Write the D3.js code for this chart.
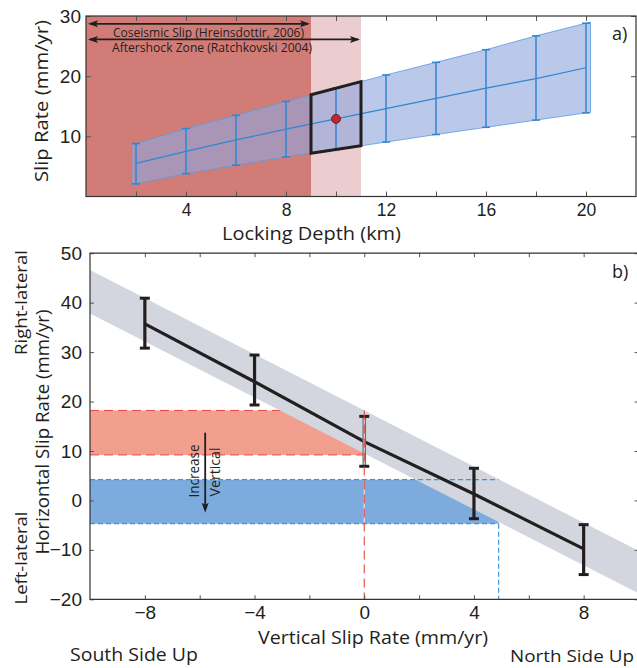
<!DOCTYPE html>
<html><head><meta charset="utf-8">
<script src="https://cdn.jsdelivr.net/npm/d3@7"></script>
<style>
body{margin:0;background:#fff}
svg{display:block}
text{font-family:"Open Sans",Lato,sans-serif;fill:#231f20}
.tick text{font-family:"Liberation Sans",Arial,sans-serif;font-size:19px;fill:#231f20}
</style>
</head><body>
<svg id="c" width="637" height="668"></svg>
<script>
// ---------- Panel a data ----------
const depths   = [2,4,6,8,10,12,14,16,18,20];
const slipMid  = [5.5,7.5,9.4,11.2,12.9,14.6,16.3,18.0,19.6,21.4];
const slipHi   = [8.8,11.3,13.5,15.8,18.0,20.2,22.3,24.4,26.7,28.8];
const slipLo   = [2.1,3.8,5.2,6.6,7.8,9.05,10.3,11.5,12.7,13.9];
const bestDepth = 10, bestSlip = 12.9;
const coseismicZone  = [0, 9];
const aftershockZone = [0, 11];
const depthBox = [9, 11];
const aTicks = [2,4,6,8,10,12,14,16,18,20];
const aTickLabels = [4,8,12,16,20];
const aYTicks = [10,20,30];

// ---------- Panel b data ----------
const vertRate  = [-8,-4,0,4,8];
const horizMid  = [35.7,24.0,11.9,1.3,-9.8];
const horizHi   = [40.9,29.4,17.0,6.5,-4.9];
const horizLo   = [30.8,19.3,6.9,-3.7,-15.0];
const grayBandX  = [-10,10];
const grayBandHi = [46.6,-10.2];
const grayBandLo = [37.8,-18.8];
const redRange  = [9.2,18.2];
const redVert   = 0;
const blueRange = [-4.7,4.2];
const blueVert  = 4.9;
const arrowPos  = {x:-5.8, y0:13.7, y1:-2.5};
const bXTicks = [-8,-6,-4,-2,0,2,4,6,8];
const bXLabels = [-8,-4,0,4,8];
const bYTicks = [-20,-10,0,10,20,30,40,50];

const svg = d3.select("#c");

function label(g, txt, x, y, size, len, opts={}){
  const t = g.append("text").style("font-size",size+"px").text(txt)
    .attr("text-anchor", opts.anchor||"middle");
  if(opts.rotate){ t.attr("transform",`translate(${x},${y}) rotate(-90)`).attr("dominant-baseline","central"); }
  else { t.attr("x",x).attr("y",y); }
  if(len) t.attr("textLength",len).attr("lengthAdjust","spacingAndGlyphs");
  return t;
}

// ================= PANEL A =================
const xa = d3.scaleLinear().domain([0,22]).range([86,636]);
const ya = d3.scaleLinear().domain([0,30]).range([196.5,16]);
const ga = svg.append("g");

ga.append("rect").attr("x",xa(depthBox[0])).attr("y",ya(30)).attr("width",xa(depthBox[1])-xa(depthBox[0])).attr("height",ya(0)-ya(30)).attr("fill","#eccdcf");
ga.append("rect").attr("x",xa(coseismicZone[0])).attr("y",ya(30)).attr("width",xa(coseismicZone[1])-xa(coseismicZone[0])).attr("height",ya(0)-ya(30)).attr("fill","#d27c77");

const pad = 0.18;
const hiS = d3.scaleLinear().domain(depths).range(slipHi);
const loS = d3.scaleLinear().domain(depths).range(slipLo);
const bx0 = depths[0]-pad, bx1 = depths[depths.length-1]+pad;
const bandPts = [[bx0,hiS(bx0)], ...depths.map((d,i)=>[d,slipHi[i]]), [bx1,hiS(bx1)], [bx1,loS(bx1)], ...depths.map((d,i)=>[d,slipLo[i]]).reverse(), [bx0,loS(bx0)]];
ga.append("path").attr("d", d3.line().x(d=>xa(d[0])).y(d=>ya(d[1]))(bandPts)+"Z")
  .attr("fill","rgb(143,166,221)").attr("fill-opacity",0.62)
  .attr("stroke","#5b9be0").attr("stroke-width",0.8);

ga.append("path").attr("d", d3.line().x(d=>xa(d)).y((d,i)=>ya(slipMid[i]))(depths))
  .attr("fill","none").attr("stroke","#2f86d3").attr("stroke-width",1.2);

depths.forEach((d,i)=>{
  const g = ga.append("g").attr("stroke","#2f86d3").attr("stroke-width",1.5);
  g.append("line").attr("x1",xa(d)).attr("x2",xa(d)).attr("y1",ya(slipHi[i])).attr("y2",ya(slipLo[i]));
  g.append("line").attr("x1",xa(d)-4).attr("x2",xa(d)+4).attr("y1",ya(slipHi[i])).attr("y2",ya(slipHi[i]));
  g.append("line").attr("x1",xa(d)-4).attr("x2",xa(d)+4).attr("y1",ya(slipLo[i])).attr("y2",ya(slipLo[i]));
});

const boxPts = [[depthBox[0],hiS(depthBox[0])],[depthBox[1],hiS(depthBox[1])],[depthBox[1],loS(depthBox[1])],[depthBox[0],loS(depthBox[0])]];
ga.append("path").attr("d", d3.line().x(d=>xa(d[0])).y(d=>ya(d[1]))(boxPts)+"Z")
  .attr("fill","none").attr("stroke","#231f20").attr("stroke-width",3).attr("stroke-linejoin","miter");

ga.append("circle").attr("cx",xa(bestDepth)).attr("cy",ya(bestSlip)).attr("r",4.5)
  .attr("fill","#c4262e").attr("stroke","#4a1515").attr("stroke-width",0.8);

function hArrow(g, x0, x1, y){
  g.append("line").attr("x1",x0+2).attr("x2",x1-2).attr("y1",y).attr("y2",y).attr("stroke","#231f20").attr("stroke-width",1.8);
  g.append("path").attr("d",`M${x0},${y}L${x0+10},${y-3.5}L${x0+8},${y}L${x0+10},${y+3.5}Z`).attr("fill","#231f20");
  g.append("path").attr("d",`M${x1},${y}L${x1-10},${y-3.5}L${x1-8},${y}L${x1-10},${y+3.5}Z`).attr("fill","#231f20");
}
hArrow(ga, xa(coseismicZone[0])+2, xa(coseismicZone[1])-1, ya(28.7));
hArrow(ga, xa(aftershockZone[0])+2, xa(aftershockZone[1])-1, ya(26.1));
label(ga, "Coseismic Slip (Hreinsdottir, 2006)", 208.5, ya(28.7)+13, 12.5, 191);
label(ga, "Aftershock Zone (Ratchkovski 2004)", 212, ya(26.1)+13, 12.5, 200);

function styleAxis(sel){ sel.select(".domain").remove(); sel.selectAll(".tick line").attr("stroke","#555").attr("stroke-width",1); }
ga.append("g").attr("transform",`translate(0,${ya(0)})`)
  .call(d3.axisBottom(xa).tickValues(aTicks).tickSize(-5).tickPadding(7).tickFormat(d=>aTickLabels.includes(d)?d:""))
  .call(styleAxis)
  .call(g=>g.selectAll(".tick text").style("font-size","17.5px"));
ga.append("g").attr("transform",`translate(0,${ya(30)})`)
  .call(d3.axisTop(xa).tickValues(aTicks).tickSize(-5).tickFormat(""))
  .call(styleAxis);
ga.append("g").attr("transform",`translate(${xa(0)},0)`)
  .call(d3.axisLeft(ya).tickValues(aYTicks).tickSize(-5).tickPadding(5))
  .call(styleAxis);
ga.append("g").attr("transform",`translate(${xa(22)},0)`)
  .call(d3.axisRight(ya).tickValues(aYTicks).tickSize(-5).tickFormat(""))
  .call(styleAxis);
ga.append("rect").attr("x",xa(0)).attr("y",ya(30)).attr("width",xa(22)-xa(0)).attr("height",ya(0)-ya(30))
  .attr("fill","none").attr("stroke","#333").attr("stroke-width",1.2);

label(ga, "a)", 612, 40, 18, null, {anchor:"start"});
label(ga, "Locking Depth (km)", 311.5, 240, 18.5, 179);
label(ga, "Slip Rate (mm/yr)", 41, 101, 19, 162, {rotate:true});

// ================= PANEL B =================
const xb = d3.scaleLinear().domain([-10,10]).range([90,638.5]);
const yb = d3.scaleLinear().domain([-20,50]).range([599.3,253.2]);
const gb = svg.append("g");
svg.append("clipPath").attr("id","clipb").append("rect")
  .attr("x",xb(-10)).attr("y",yb(50)).attr("width",xb(10)-xb(-10)).attr("height",yb(-20)-yb(50));

gb.append("rect").attr("x",xb(-10)).attr("y",yb(redRange[1])).attr("width",xb(redVert)-xb(-10)).attr("height",yb(redRange[0])-yb(redRange[1]))
  .attr("fill","#f29f90");
[redRange[0],redRange[1]].forEach(v=>{
  gb.append("line").attr("x1",xb(-10)).attr("x2",xb(redVert)).attr("y1",yb(v)).attr("y2",yb(v))
    .attr("stroke","#e8473a").attr("stroke-width",1).attr("stroke-dasharray","9,5");
});
gb.append("rect").attr("x",xb(-10)).attr("y",yb(blueRange[1])).attr("width",xb(blueVert)-xb(-10)).attr("height",yb(blueRange[0])-yb(blueRange[1]))
  .attr("fill","#7dabdd");
gb.append("line").attr("x1",xb(redVert)).attr("x2",xb(redVert)).attr("y1",yb(blueRange[1])).attr("y2",yb(blueRange[0]))
  .attr("stroke","#d8e6f5").attr("stroke-width",1.2);

const gbPts = [[grayBandX[0],grayBandHi[0]],[grayBandX[1],grayBandHi[1]],[grayBandX[1],grayBandLo[1]],[grayBandX[0],grayBandLo[0]]];
gb.append("path").attr("clip-path","url(#clipb)")
  .attr("d", d3.line().x(d=>xb(d[0])).y(d=>yb(d[1]))(gbPts)+"Z").attr("fill","#d3d6de");

[blueRange[0],blueRange[1]].forEach(v=>{
  gb.append("line").attr("x1",xb(-10)).attr("x2",xb(blueVert)).attr("y1",yb(v)).attr("y2",yb(v))
    .attr("stroke","#3f93d6").attr("stroke-width",1.2).attr("stroke-dasharray","5,3");
});
gb.append("line").attr("x1",xb(blueVert)).attr("x2",xb(blueVert)).attr("y1",yb(blueRange[0])).attr("y2",yb(-20))
  .attr("stroke","#3f93d6").attr("stroke-width",1.2).attr("stroke-dasharray","5,3");

gb.append("path").attr("d", d3.line().x(d=>xb(d)).y((d,i)=>yb(horizMid[i]))(vertRate))
  .attr("fill","none").attr("stroke","#231f20").attr("stroke-width",3.2);

vertRate.forEach((d,i)=>{
  const g = gb.append("g");
  if(d===redVert){
    g.append("line").attr("x1",xb(d)).attr("x2",xb(d)).attr("y1",yb(horizHi[i])).attr("y2",yb(horizLo[i])).attr("stroke","#6d6e71").attr("stroke-width",3.6);
    g.append("line").attr("x1",xb(d)).attr("x2",xb(d)).attr("y1",yb(horizHi[i])).attr("y2",yb(horizLo[i])).attr("stroke","#c9cbd1").attr("stroke-width",1.4);
  } else {
    g.append("line").attr("x1",xb(d)).attr("x2",xb(d)).attr("y1",yb(horizHi[i])).attr("y2",yb(horizLo[i])).attr("stroke","#231f20").attr("stroke-width",3.2);
  }
  [horizHi[i],horizLo[i]].forEach(v=>g.append("line").attr("x1",xb(d)-5).attr("x2",xb(d)+5).attr("y1",yb(v)).attr("y2",yb(v)).attr("stroke","#231f20").attr("stroke-width",3));
});

gb.append("line").attr("x1",xb(redVert)).attr("x2",xb(redVert)).attr("y1",yb(redRange[1])).attr("y2",yb(-20))
  .attr("stroke","#e8473a").attr("stroke-width",1.1).attr("stroke-dasharray","9,5");

gb.append("line").attr("x1",xb(arrowPos.x)).attr("x2",xb(arrowPos.x)).attr("y1",yb(arrowPos.y0)).attr("y2",yb(arrowPos.y1)-6)
  .attr("stroke","#231f20").attr("stroke-width",1.8);
{
  const ax = xb(arrowPos.x), ay = yb(arrowPos.y1);
  gb.append("path").attr("d",`M${ax},${ay}L${ax-3.5},${ay-10}L${ax},${ay-8}L${ax+3.5},${ay-10}Z`).attr("fill","#231f20");
}
label(gb, "Increase", xb(arrowPos.x)-12, 471, 14, 53, {rotate:true});
label(gb, "Vertical", xb(arrowPos.x)+9, 472, 14, 49, {rotate:true});

gb.append("g").attr("transform",`translate(0,${yb(-20)})`)
  .call(d3.axisBottom(xb).tickValues(bXTicks).tickSize(-4).tickPadding(6).tickFormat(d=>bXLabels.includes(d)?d3.format("")(d):""))
  .call(styleAxis);
gb.append("g").attr("transform",`translate(0,${yb(50)})`)
  .call(d3.axisTop(xb).tickValues(bXTicks).tickSize(-4).tickFormat(""))
  .call(styleAxis);
gb.append("g").attr("transform",`translate(${xb(-10)},0)`)
  .call(d3.axisLeft(yb).tickValues(bYTicks).tickSize(-4).tickPadding(8))
  .call(styleAxis);
gb.append("g").attr("transform",`translate(${xb(10)},0)`)
  .call(d3.axisRight(yb).tickValues(bYTicks).tickSize(-4).tickFormat(""))
  .call(styleAxis);
gb.append("path").attr("d",`M${xb(10)},${yb(50)}H${xb(-10)}V${yb(-20)}H${xb(10)}V${yb(50)}`)
  .attr("fill","none").attr("stroke","#333").attr("stroke-width",1.2);

label(gb, "b)", 612, 278, 18, null, {anchor:"start"});
label(gb, "Vertical Slip Rate (mm/yr)", 373, 644, 18, 230);
label(gb, "South Side Up", 70, 661, 17.5, 128, {anchor:"start"});
label(gb, "North Side Up", 510, 662, 17, 124, {anchor:"start"});
label(gb, "Right-lateral", 20, 302.5, 17, 105, {rotate:true});
label(gb, "Left-lateral", 20, 558, 17, 93, {rotate:true});
label(gb, "Horizontal Slip Rate (mm/yr)", 42, 432, 18, 245, {rotate:true});
</script>
</body></html>
